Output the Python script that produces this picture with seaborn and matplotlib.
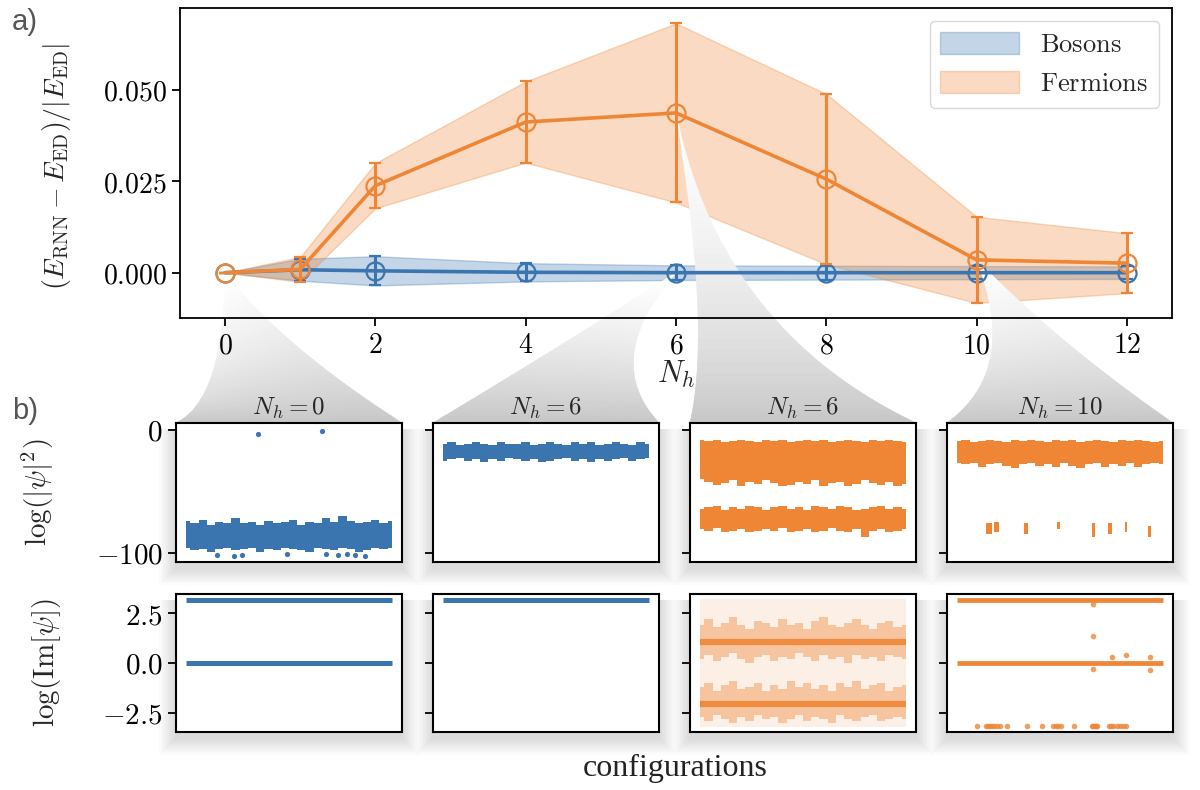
import numpy as np
import matplotlib
matplotlib.use("Agg")
import matplotlib.pyplot as plt
import seaborn as sns
from matplotlib.patches import Polygon, Rectangle
from matplotlib.ticker import FuncFormatter

# ---------------- data ----------------
n_holes = [0, 1, 2, 4, 6, 8, 10, 12]
bosons_mean = [0.0, 0.0008, 0.0005, 0.0001, 0.0, 0.0, 0.0, 0.0]
bosons_std = [0.0, 0.0030, 0.0040, 0.0025, 0.0020, 0.0019, 0.0018, 0.0017]
fermions_mean = [0.0, 0.0009, 0.0238, 0.0412, 0.0437, 0.0256, 0.0035, 0.0026]
fermions_std = [0.0, 0.0034, 0.0062, 0.0111, 0.0245, 0.0233, 0.0118, 0.0082]

# configuration index grid on which the sample clouds are described
configs = [0, 40, 80, 120, 160, 200, 240, 280, 320, 360, 400, 440, 480,
           520, 560, 600, 640, 680, 720, 760, 800, 840, 880, 920, 960, 1000]

# log|psi|^2 clouds: upper / lower envelopes
b0_amp_top = [-74, -76, -73, -77, -75, -76, -72, -76, -75, -77, -74, -76, -75,
              -73, -77, -75, -76, -72, -75, -70, -74, -76, -75, -73, -76, -74]
b0_amp_bot = [-96, -98, -97, -99, -97, -96, -98, -97, -96, -99, -97, -98, -96,
              -97, -98, -99, -96, -97, -98, -96, -97, -99, -98, -96, -97, -96]
b0_out_x = [347, 660, 150, 230, 270, 490, 680, 740, 780, 820, 870]
b0_out_y = [-3, -1, -102, -103, -102, -101, -101, -102, -101, -102, -103]

b6_amp_top = [-11, -10, -12, -11, -10, -11, -12, -10, -11, -11, -10, -12, -11,
              -10, -11, -12, -10, -11, -10, -12, -11, -10, -11, -12, -10, -11]
b6_amp_bot = [-25, -24, -23, -25, -24, -26, -24, -25, -23, -24, -25, -24, -26,
              -25, -24, -23, -25, -24, -26, -24, -25, -24, -23, -25, -24, -23]

f6_amp_hi_top = [-8, -9, -8, -10, -9, -8, -9, -10, -8, -9, -8, -10, -9,
                 -8, -9, -8, -10, -9, -8, -9, -10, -8, -9, -8, -9, -10]
f6_amp_hi_bot = [-40, -42, -45, -43, -41, -46, -42, -44, -41, -43, -46, -45, -42,
                 -44, -41, -46, -43, -42, -46, -44, -41, -43, -45, -42, -46, -44]
f6_amp_lo_top = [-64, -63, -62, -65, -63, -64, -62, -63, -65, -63, -62, -64, -63,
                 -65, -62, -63, -64, -62, -63, -65, -64, -63, -62, -64, -63, -64]
f6_amp_lo_bot = [-81, -82, -80, -83, -82, -81, -83, -82, -81, -82, -80, -83, -82,
                 -81, -83, -82, -80, -82, -83, -81, -87, -82, -81, -83, -82, -81]

f10_amp_top = [-9, -8, -10, -9, -8, -9, -10, -8, -9, -8, -9, -10, -8,
               -9, -8, -10, -9, -8, -9, -10, -8, -9, -8, -9, -10, -9]
f10_amp_bot = [-27, -28, -27, -30, -28, -27, -29, -31, -28, -27, -29, -28, -30,
               -27, -29, -31, -28, -27, -30, -28, -29, -27, -30, -28, -27, -28]
f10_cluster_x = [156, 192, 335, 492, 663, 743, 821, 937]
f10_cluster_w = [28, 25, 20, 15, 17, 17, 13, 15]
f10_cluster_top = [-76, -75, -76, -75, -76, -76, -75, -78]
f10_cluster_bot = [-85, -83, -85, -81, -87, -85, -83, -87]

# phase panels
b0_phase_levels = [np.pi, 0.0]
b6_phase_levels = [np.pi]
f6_phase_cores = [1.05, -2.05]
f6_phase_up_top = [1.9, 2.2, 1.8, 2.0, 2.3, 1.9, 1.7, 2.1, 2.0, 1.8, 2.2, 1.9, 2.0,
                   1.7, 2.1, 2.3, 1.9, 1.8, 2.0, 2.2, 1.9, 1.7, 2.0, 2.1, 1.8, 1.9]
f6_phase_up_bot = [0.2, 0.4, 0.1, 0.3, 0.5, 0.2, 0.0, 0.3, 0.4, 0.1, 0.3, 0.2, 0.5,
                   0.3, 0.1, 0.4, 0.2, 0.3, 0.0, 0.4, 0.2, 0.3, 0.1, 0.4, 0.3, 0.2]
f6_phase_lo_top = [-1.2, -1.0, -1.4, -1.1, -0.9, -1.3, -1.2, -1.0, -1.4, -1.1, -1.3, -0.9, -1.2,
                   -1.0, -1.3, -1.1, -1.4, -1.0, -1.2, -0.9, -1.3, -1.1, -1.0, -1.4, -1.2, -1.1]
f6_phase_lo_bot = [-2.7, -2.9, -2.6, -2.8, -3.0, -2.7, -2.9, -2.6, -2.8, -2.7, -3.0, -2.8, -2.6,
                   -2.9, -2.7, -2.8, -3.0, -2.6, -2.8, -2.9, -2.7, -2.6, -2.9, -2.8, -2.7, -2.8]
f10_phase_levels = [np.pi, 0.0]
f10_pts_x = [95, 142, 150, 160, 170, 180, 195, 207, 244, 337, 412, 467, 480, 490, 505,
             570, 654, 660, 668, 676, 682, 737, 750, 760, 775, 790, 805, 821,
             663, 752, 821, 937, 663, 663, 937]
f10_pts_y = [-np.pi] * 28 + [1.35, 0.3, 0.38, 0.28, 2.98, -0.3, -0.35]

BLUE = "#3b75af"
ORANGE = "#ef8636"

# ---------------- style ----------------
sns.set_theme(style="ticks")
plt.rcParams["font.family"] = ["DejaVu Sans"]
plt.rcParams["mathtext.fontset"] = "cm"
plt.rcParams["axes.edgecolor"] = "black"
plt.rcParams["axes.linewidth"] = 1.3
plt.rcParams["xtick.color"] = "black"
plt.rcParams["ytick.color"] = "black"

W, H = 1200, 790
fig = plt.figure(figsize=(12, 7.9), dpi=100, facecolor="white")


def px_axes(left, top, right, bottom):
    return fig.add_axes([left / W, 1 - bottom / H, (right - left) / W, (bottom - top) / H])


def math_fmt(fmt):
    return FuncFormatter(lambda v, p: "$" + format(v, fmt) + "$")


# ---------------- panel a ----------------
ax = px_axes(180, 8, 1172, 318)
ax.set_axisbelow(False)
for name, mean, std, color, z in [("Bosons", bosons_mean, bosons_std, BLUE, 3.0),
                                  ("Fermions", fermions_mean, fermions_std, ORANGE, 3.1)]:
    mean = np.asarray(mean)
    std = np.asarray(std)
    ax.fill_between(n_holes, mean - std, mean + std, color=color, alpha=0.3,
                    lw=1, label=r"$\mathrm{" + name + "}$", zorder=1)
    ax.errorbar(n_holes, mean, yerr=std, color=color, marker="o", mfc="none",
                ms=13, mew=1.6, lw=2.6, elinewidth=2.2, capsize=4, capthick=2, zorder=z)

ax.set_xlim(-0.6, 12.6)
ax.set_ylim(-0.0124, 0.0724)
ax.set_xticks([0, 2, 4, 6, 8, 10, 12])
ax.set_yticks([0, 0.025, 0.05])
ax.xaxis.set_major_formatter(math_fmt(".0f"))
ax.yaxis.set_major_formatter(math_fmt(".3f"))
ax.tick_params(labelsize=20, length=6, width=1.3, direction="out")
ax.set_xlabel(r"$N_h$", fontsize=22, labelpad=0)
ax.set_ylabel(r"$(E_{\mathrm{RNN}} - E_{\mathrm{ED}})/|E_{\mathrm{ED}}|$", fontsize=20)
ax.yaxis.set_label_coords(-0.108, 0.49)
leg = ax.legend(loc="upper right", fontsize=19, handlelength=3.0, handleheight=0.9,
                frameon=True, fancybox=True, edgecolor="#d9d9d9", framealpha=1.0)

# ---------------- panel b ----------------
lefts = [176, 433, 690, 947]
rows = [(423, 562), (594, 732)]
panels = [[px_axes(l, t, l + 226, b) for l in lefts] for (t, b) in rows]
titles = [r"$N_h = 0$", r"$N_h = 6$", r"$N_h = 6$", r"$N_h = 10$"]

a1, a2, a3, a4 = panels[0]
a1.fill_between(configs, b0_amp_bot, b0_amp_top, step="mid", color=BLUE, lw=0)
sns.scatterplot(x=b0_out_x, y=b0_out_y, color=BLUE, s=14, linewidth=0, ax=a1)
a2.fill_between(configs, b6_amp_bot, b6_amp_top, step="mid", color=BLUE, lw=0)
a3.fill_between(configs, f6_amp_hi_bot, f6_amp_hi_top, step="mid", color=ORANGE, lw=0)
a3.fill_between(configs, f6_amp_lo_bot, f6_amp_lo_top, step="mid", color=ORANGE, lw=0)
a4.fill_between(configs, f10_amp_bot, f10_amp_top, step="mid", color=ORANGE, lw=0)
a4.bar(f10_cluster_x, np.subtract(f10_cluster_top, f10_cluster_bot), bottom=f10_cluster_bot,
       width=f10_cluster_w, color=ORANGE, lw=0)

p1, p2, p3, p4 = panels[1]
span = [configs[0], configs[-1]]
for lev in b0_phase_levels:
    sns.lineplot(x=span, y=[lev, lev], color=BLUE, lw=3.6, ax=p1, solid_capstyle="butt")
for lev in b6_phase_levels:
    sns.lineplot(x=span, y=[lev, lev], color=BLUE, lw=3.6, ax=p2, solid_capstyle="butt")
p3.fill_between(span, [-3.2, -3.2], [3.2, 3.2], color=ORANGE, alpha=0.13, lw=0)
p3.fill_between(configs, f6_phase_up_bot, f6_phase_up_top, step="mid", color=ORANGE, alpha=0.4, lw=0)
p3.fill_between(configs, f6_phase_lo_bot, f6_phase_lo_top, step="mid", color=ORANGE, alpha=0.4, lw=0)
for lev in f6_phase_cores:
    sns.lineplot(x=span, y=[lev, lev], color=ORANGE, lw=4.5, alpha=0.9, ax=p3, solid_capstyle="butt")
for lev in f10_phase_levels:
    sns.lineplot(x=span, y=[lev, lev], color=ORANGE, lw=3.4, ax=p4, solid_capstyle="butt")
sns.scatterplot(x=f10_pts_x, y=f10_pts_y, color=ORANGE, s=16, linewidth=0, alpha=0.8, ax=p4)

for r, row in enumerate(panels):
    for c, pa in enumerate(row):
        pa.set_xlim(-50, 1050)
        pa.set_xticks([])
        pa.set_xlabel("")
        for sp in pa.spines.values():
            sp.set_linewidth(1.5)
            sp.set_color("black")
        pa.tick_params(axis="y", labelsize=21, length=6, width=1.3, direction="out")
        if r == 0:
            pa.set_ylim(-107.5, 5.7)
            pa.set_yticks([0, -100])
            pa.yaxis.set_major_formatter(math_fmt(".0f"))
            pa.set_title(titles[c], fontsize=18, pad=6)
        else:
            pa.set_ylim(-3.456, 3.456)
            pa.set_yticks([2.5, 0, -2.5])
            pa.yaxis.set_major_formatter(math_fmt(".1f"))
        if c > 0:
            pa.tick_params(axis="y", labelleft=False)

panels[0][0].set_ylabel(r"$\log(|\psi|^2)$", fontsize=21)
panels[0][0].yaxis.set_label_coords(-0.53, 0.5)
panels[1][0].set_ylabel(r"$\log(\mathrm{Im}[\psi])$", fontsize=21)
panels[1][0].yaxis.set_label_coords(-0.50, 0.5)

# soft shadows under the small panels (mostly below)
for row in panels:
    for pa in row:
        pos = pa.get_position()
        for k in range(1, 13):
            dx = 1.4 * k / W
            dy = 1.4 * k / H
            fig.add_artist(Rectangle((pos.x0 - dx, pos.y0 - dy - 6 / H),
                                     pos.width + 2 * dx, pos.height + dy,
                                     transform=fig.transFigure, color="black",
                                     alpha=0.012, lw=0, zorder=-1))


# zoom cones from a point of panel a to a small panel
def bezier(p0, c, p2, t):
    t = t[:, None]
    return (1 - t) ** 2 * np.asarray(p0) + 2 * (1 - t) * t * np.asarray(c) + t ** 2 * np.asarray(p2)


def to_px(disp):
    return np.array([disp[0], H - disp[1]])


cones = [
    (0, fermions_mean[0], panels[0][0], (224, 400), (280, 345)),
    (6, bosons_mean[4], panels[0][1], (555, 350), (600, 360)),
    (6, fermions_mean[4], panels[0][2], (712, 330), (720, 330)),
    (10, fermions_mean[6], panels[0][3], (1020, 370), (1060, 345)),
]
tt = np.linspace(0, 1, 45)
for xv, yv, pa, cl, cr in cones:
    apex = to_px(ax.transData.transform((xv, yv)))
    pos = pa.get_position()
    base_l = np.array([pos.x0 * W, (1 - pos.y1) * H])
    base_r = np.array([pos.x1 * W, (1 - pos.y1) * H])
    L = bezier(apex, cl, base_l, tt)
    R = bezier(apex, cr, base_r, tt)
    for i in range(len(tt) - 1):
        verts = np.array([L[i], L[i + 1], R[i + 1], R[i]])
        verts = np.column_stack([verts[:, 0] / W, 1 - verts[:, 1] / H])
        tm = 0.5 * (tt[i] + tt[i + 1])
        g = 1 - 0.22 * tm ** 1.3
        ax.add_artist(Polygon(verts, closed=True, transform=fig.transFigure,
                              facecolor=(g, g, g), edgecolor=(g, g, g), lw=0.6,
                              clip_on=False, zorder=1.5))

# labels
fig.text(675 / W, 1 - 768 / H, "configurations", ha="center", va="center",
         fontsize=23, family=["Liberation Serif", "DejaVu Serif"], color="#222222")
fig.text(12 / W, 1 - 22 / H, "a)", ha="left", va="center", fontsize=21,
         family=["Liberation Sans", "DejaVu Sans"], color="#555555")
fig.text(12 / W, 1 - 411 / H, "b)", ha="left", va="center", fontsize=21,
         family=["Liberation Sans", "DejaVu Sans"], color="#555555")

fig.savefig("out.png", dpi=100, facecolor="white")
